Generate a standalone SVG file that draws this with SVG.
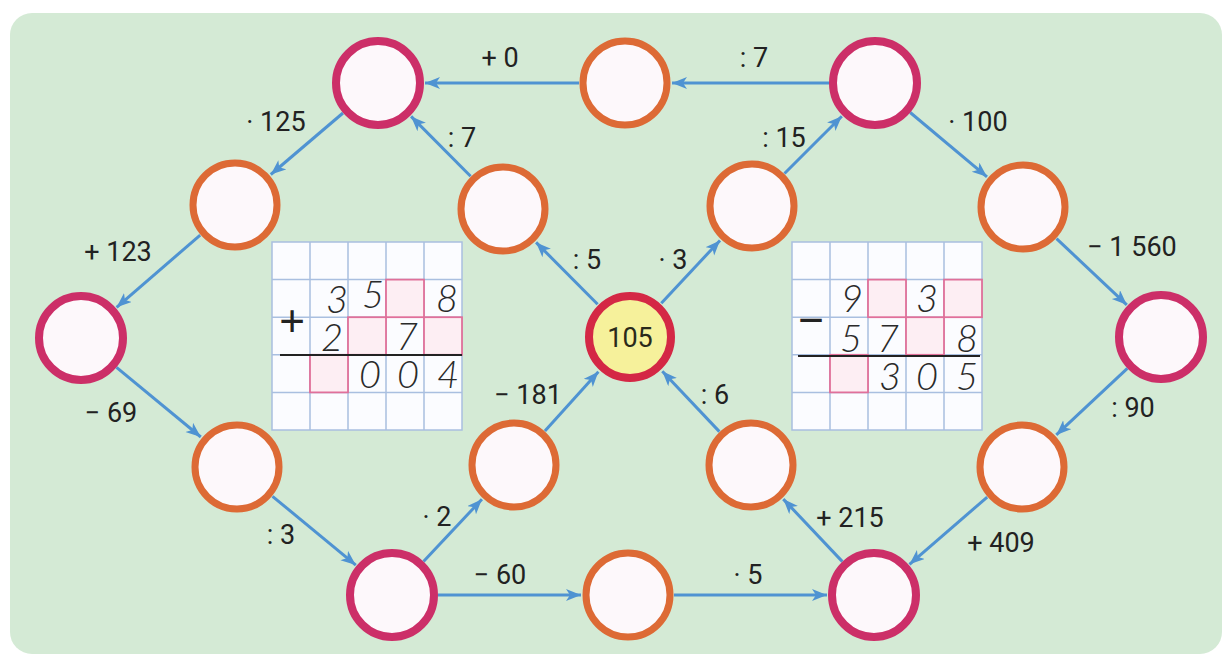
<svg xmlns="http://www.w3.org/2000/svg" width="1229" height="661" viewBox="0 0 1229 661">
<style>
.m{fill:#fdf8fb;stroke:#cc2f68;stroke-width:8}
.o{fill:#fdf8fb;stroke:#dd6a35;stroke-width:7}
.e{stroke:#4f93d2;stroke-width:3;fill:none;marker-end:url(#ah)}
.l{font-family:Roboto,"Liberation Sans",sans-serif;font-weight:400;font-size:27px;fill:#222;text-anchor:middle}
.gl{stroke:#a9bfe0;stroke-width:1.5;fill:none}
.p{fill:#fdeef3;stroke:#e0709a;stroke-width:1.8}
.d{font-family:Lato,"Liberation Sans",sans-serif;font-weight:300;font-style:italic;font-size:38px;fill:#2a2a2a;text-anchor:middle}
.s{font-family:"Liberation Sans",sans-serif;font-size:44px;fill:#222;text-anchor:middle}
</style>
<defs>
<marker id="ah" markerUnits="userSpaceOnUse" markerWidth="18" markerHeight="14" refX="15" refY="6" orient="auto">
<path d="M0,0 L15,6 L0,12 L4,6 z" fill="#4f93d2"/>
</marker>
</defs>
<rect width="1229" height="661" fill="#ffffff"/>
<rect x="10" y="13" width="1212" height="641" rx="22" fill="#d4ead5"/>

<g id="grid-left">
<rect x="272" y="242" width="190" height="188" fill="#fbfcff" stroke="#a9bfe0" stroke-width="1.5"/>
<path class="gl" d="M310,242V430M348,242V430M386,242V430M424,242V430M272,279.6H462M272,317.2H462M272,354.8H462M272,392.4H462"/>
<rect class="p" x="386" y="279.6" width="38" height="37.6"/>
<rect class="p" x="348" y="317.2" width="38" height="37.6"/>
<rect class="p" x="424" y="317.2" width="38" height="37.6"/>
<rect class="p" x="310" y="354.8" width="38" height="37.6"/>
<text class="s" x="292" y="336">+</text>
<text class="d" x="337" y="313">3</text>
<text class="d" x="373" y="308">5</text>
<text class="d" x="447" y="312">8</text>
<text class="d" x="332" y="351">2</text>
<text class="d" x="407" y="350">7</text>
<text class="d" x="370" y="388">0</text>
<text class="d" x="408" y="388">0</text>
<text class="d" x="448" y="388">4</text>
<path d="M280,355H462" stroke="#222" stroke-width="2.2"/>
</g>

<g id="grid-right">
<rect x="792" y="242" width="190" height="188" fill="#fbfcff" stroke="#a9bfe0" stroke-width="1.5"/>
<path class="gl" d="M830,242V430M868,242V430M906,242V430M944,242V430M792,279.6H982M792,317.2H982M792,354.8H982M792,392.4H982"/>
<rect class="p" x="868" y="279.6" width="38" height="37.6"/>
<rect class="p" x="944" y="279.6" width="38" height="37.6"/>
<rect class="p" x="906" y="317.2" width="38" height="37.6"/>
<rect class="p" x="830" y="354.8" width="38" height="37.6"/>
<text class="s" x="811" y="335">−</text>
<text class="d" x="852" y="312">9</text>
<text class="d" x="927" y="312">3</text>
<text class="d" x="851" y="352">5</text>
<text class="d" x="888" y="352">7</text>
<text class="d" x="967" y="352">8</text>
<text class="d" x="890" y="390">3</text>
<text class="d" x="927" y="390">0</text>
<text class="d" x="967" y="390">5</text>
<path d="M798,356H980" stroke="#222" stroke-width="2.2"/>
</g>

<g id="connectors">
<path class="e" d="M579,83H425"/>
<path class="e" d="M829,83H672"/>
<path class="e" d="M343,113L270.8,174.5"/>
<path class="e" d="M200.2,235.1L116.6,307.3"/>
<path class="e" d="M116.5,367.3L200.8,437"/>
<path class="e" d="M272.5,496.3L355.8,565.1"/>
<path class="e" d="M423.5,561.5L481.9,499.3"/>
<path class="e" d="M438,595H581"/>
<path class="e" d="M674,595H827"/>
<path class="e" d="M842.4,561.6L783.3,499.1"/>
<path class="e" d="M987.2,497.1L909.5,564.3"/>
<path class="e" d="M1127.4,368.4L1056.3,434.9"/>
<path class="e" d="M1056.5,238.6L1126.8,304.8"/>
<path class="e" d="M910.2,112.5L987,176.8"/>
<path class="e" d="M784.5,173.5L841.8,116.2"/>
<path class="e" d="M661.3,303.3L720,240.4"/>
<path class="e" d="M597.6,304.3L536.1,242.4"/>
<path class="e" d="M470.6,176.3L411.1,116.4"/>
<path class="e" d="M544.9,430.9L598.4,371.8"/>
<path class="e" d="M719.4,431.6L662.3,371.2"/>
</g>

<g id="labels">
<text class="l" x="500" y="67">+ 0</text>
<text class="l" x="754" y="67">: 7</text>
<text class="l" x="276" y="131">· 125</text>
<text class="l" x="462" y="147">: 7</text>
<text class="l" x="784" y="147">: 15</text>
<text class="l" x="978" y="131">· 100</text>
<text class="l" x="118" y="261">+ 123</text>
<text class="l" x="587" y="269">: 5</text>
<text class="l" x="673" y="269">· 3</text>
<text class="l" x="1132" y="256">− 1 560</text>
<text class="l" x="111" y="422">− 69</text>
<text class="l" x="528" y="404">− 181</text>
<text class="l" x="715" y="404">: 6</text>
<text class="l" x="1133" y="417">: 90</text>
<text class="l" x="281" y="544">: 3</text>
<text class="l" x="437" y="526">· 2</text>
<text class="l" x="850" y="527">+ 215</text>
<text class="l" x="1001" y="552">+ 409</text>
<text class="l" x="500" y="584">− 60</text>
<text class="l" x="748" y="584">· 5</text>
</g>

<g id="n-topl"><circle class="m" cx="378" cy="83" r="42"/></g>
<g id="n-topm"><circle class="o" cx="625" cy="83" r="42"/></g>
<g id="n-topr"><circle class="m" cx="875" cy="83" r="42"/></g>
<g id="n-ul"><circle class="o" cx="235" cy="205" r="42"/></g>
<g id="n-ul2"><circle class="o" cx="503" cy="209" r="42"/></g>
<g id="n-ur2"><circle class="o" cx="752" cy="206" r="42"/></g>
<g id="n-ur"><circle class="o" cx="1023" cy="207" r="42"/></g>
<g id="n-l"><circle class="m" cx="81" cy="338" r="42"/></g>
<g id="n-c"><circle cx="630" cy="337" r="41" fill="#f6f19b" stroke="#d42845" stroke-width="8"/><text x="630" y="347" font-family="Roboto,'Liberation Sans',sans-serif" font-size="27" fill="#2a2a1a" text-anchor="middle">105</text></g>
<g id="n-r"><circle class="m" cx="1161" cy="337" r="42"/></g>
<g id="n-ll"><circle class="o" cx="237" cy="467" r="42"/></g>
<g id="n-ll2"><circle class="o" cx="514" cy="465" r="42"/></g>
<g id="n-lr2"><circle class="o" cx="751" cy="465" r="42"/></g>
<g id="n-lr"><circle class="o" cx="1022" cy="467" r="42"/></g>
<g id="n-bl"><circle class="m" cx="392" cy="595" r="42"/></g>
<g id="n-bm"><circle class="o" cx="628" cy="595" r="42"/></g>
<g id="n-br"><circle class="m" cx="874" cy="595" r="42"/></g>
</svg>
